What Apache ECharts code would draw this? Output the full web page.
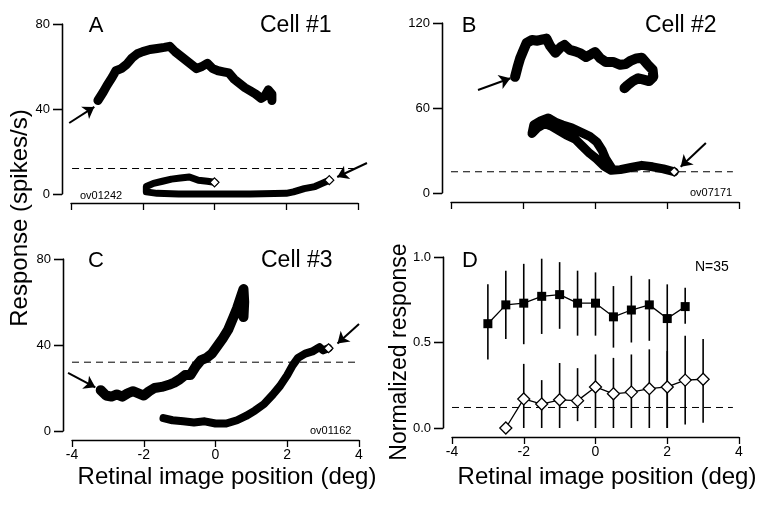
<!DOCTYPE html>
<html><head><meta charset="utf-8">
<script src="https://cdn.jsdelivr.net/npm/echarts@6/dist/echarts.min.js"></script>
<style>html,body{margin:0;padding:0;background:#fff}#c{width:768px;height:515px}</style>
</head><body><div id="c"></div>
<script>
// ---------- data ----------
const xTicks = [-4, -2, 0, 2, 4];
const yTicksA = [0, 40, 80];
const yTicksB = [0, 60, 120];
const yTicksC = [0, 40, 80];
const yTicksD = [0, 0.5, 1.0];

// Panel A (Cell #1)
const aFilled = [[-3.25,44],[-3.1,48],[-3.0,51],[-2.85,55],[-2.75,58],[-2.6,59],[-2.45,61],[-2.3,64],[-2.15,66],[-2.0,67],[-1.8,68],[-1.6,68.5],[-1.4,69],[-1.25,69.5],[-1.1,67],[-0.95,65],[-0.8,63],[-0.65,61],[-0.5,59],[-0.35,60],[-0.2,61.5],[-0.05,59],[0.1,58],[0.25,57.5],[0.4,57],[0.55,54],[0.7,52],[0.85,50],[1.0,48.5],[1.15,47],[1.3,45],[1.4,46],[1.5,49],[1.6,47],[1.6,44]];
const aOpen = [[0,5.5],[-0.2,6],[-0.45,6.5],[-0.7,8],[-0.95,7.5],[-1.2,7],[-1.45,6],[-1.7,5],[-1.9,3.5],[-1.9,1],[-1.6,0.3],[-1,0],[0,0],[1,0],[2,0.3],[2.2,1],[2.5,2.5],[2.8,3.5],[3.0,5],[3.2,6.5]];
const aOpenEnds = [[0,5.5],[3.2,6.5]];
const aBaseline = 12;
const aArrows = [[[-4.05,33.4],[-3.35,41]],[[4.25,14.6],[3.42,8]]];

// Panel B (Cell #2)
const bFilled = [[-2.22,82],[-2.15,89],[-2.08,95],[-2.0,100],[-1.9,106],[-1.75,108],[-1.6,107.5],[-1.45,108.5],[-1.35,109],[-1.25,104],[-1.1,99],[-0.95,103],[-0.85,104.5],[-0.7,101],[-0.55,100],[-0.4,98.5],[-0.25,96],[-0.1,98],[0,99.5],[0.15,95],[0.3,92.5],[0.5,92.5],[0.7,90.5],[0.85,91],[1.0,93.5],[1.15,95],[1.3,95.5],[1.45,91],[1.6,87],[1.62,82],[1.5,79],[1.35,80],[1.2,81],[1.05,79],[0.9,76],[0.82,74]];
const bOpen = [[2.2,15],[1.9,17],[1.6,18.5],[1.3,19.5],[1.0,18],[0.7,16.5],[0.45,16],[0.25,19],[0.05,24],[-0.15,28],[-0.35,33],[-0.55,38],[-0.8,41],[-1.0,44],[-1.2,47],[-1.4,49],[-1.6,46],[-1.75,42],[-1.7,48],[-1.5,51],[-1.3,53],[-1.1,50],[-0.9,48],[-0.65,46],[-0.4,43],[-0.15,40],[0.05,36],[0.2,30],[0.3,24],[0.45,18]];
const bOpenEnds = [[2.2,15]];
const bBaseline = 15;
const bArrows = [[[-3.25,72.7],[-2.35,81]],[[3.08,35.3],[2.38,18.5]]];

// Panel C (Cell #3)
const cFilled = [[-3.2,19],[-3.05,16.5],[-2.9,16],[-2.75,17],[-2.6,16],[-2.45,17.5],[-2.3,18.5],[-2.15,17.5],[-2.0,16.5],[-1.85,18.5],[-1.7,20],[-1.5,20.5],[-1.3,21.5],[-1.15,22.5],[-1.0,24],[-0.85,26],[-0.7,26],[-0.55,30],[-0.4,33],[-0.25,34],[-0.1,36],[0.05,39.5],[0.2,43],[0.35,47],[0.5,53],[0.6,57],[0.7,62],[0.78,66],[0.8,60],[0.78,53]];
const cOpen = [[-1.45,6],[-1.2,5],[-0.9,4.5],[-0.6,4],[-0.3,4.5],[0,3.5],[0.3,3.5],[0.6,5],[0.85,7],[1.1,9.5],[1.35,12.5],[1.6,17],[1.8,21],[2.0,26],[2.15,30.5],[2.3,34],[2.5,36],[2.7,37],[2.9,39],[3.0,37.5],[3.15,38.5]];
const cOpenEnds = [[3.15,38.5]];
const cBaseline = 32;
const cArrows = [[[-4.11,27],[-3.35,20.3]],[[4.0,49.8],[3.4,40.7]]];

// Panel D (population, N=35)
const dFilledX  = [-3,-2.5,-2,-1.5,-1,-0.5,0,0.5,1,1.5,2,2.5];
const dFilled   = [0.61,0.72,0.73,0.77,0.78,0.73,0.73,0.65,0.69,0.72,0.64,0.71];
const dFilledLo = [0.40,0.52,0.49,0.55,0.58,0.54,0.54,0.47,0.50,0.51,0.00,0.61];
const dFilledHi = [0.84,0.92,0.96,0.99,0.97,0.92,0.91,0.83,0.89,0.87,0.84,0.82];
const dOpenX  = [-2.5,-2,-1.5,-1,-0.5,0,0.5,1,1.5,2,2.5,3];
const dOpen   = [0.0,0.17,0.14,0.165,0.16,0.24,0.20,0.21,0.23,0.24,0.28,0.285];
const dOpenLo = [null,0,0,0,0.04,0,0,0,0,0,0.02,0.03];
const dOpenHi = [null,0.375,0.28,0.38,0.35,0.43,0.41,0.43,0.46,0.45,0.54,0.52];
const dBaseline = 0.12;

// ---------- chart ----------
const FONT = 'Liberation Sans, Arial, Helvetica, sans-serif';
const chart = echarts.init(document.getElementById('c'), null, {renderer: 'canvas'});

const panels = [
  {left: 71, top: 24, width: 287, height: 170, ticks: yTicksA},
  {left: 451, top: 23, width: 288, height: 170, ticks: yTicksB},
  {left: 72, top: 259, width: 287, height: 172, ticks: yTicksC},
  {left: 452, top: 257, width: 287, height: 171, ticks: yTicksD}
];
const Y_OFFSET = 9, Y_TICK = 9;

const grids = [], xAxes = [], yAxes = [];
panels.forEach((p, i) => {
  const t = p.ticks;
  grids.push({left: p.left, top: p.top, width: p.width, height: p.height});
  xAxes.push({
    type: 'value', gridIndex: i, min: xTicks[0], max: xTicks[xTicks.length - 1], interval: 2, offset: 9,
    axisLine: {show: true, onZero: false, lineStyle: {color: '#000', width: 1.3}},
    axisTick: {show: true, length: 7, lineStyle: {color: '#000', width: 1.3}},
    axisLabel: {show: i >= 2, color: '#000', fontSize: 14, fontFamily: FONT, margin: 8},
    splitLine: {show: false}
  });
  yAxes.push({
    type: 'value', gridIndex: i, min: t[0], max: t[t.length - 1], interval: t[1] - t[0], offset: Y_OFFSET,
    axisLine: {show: true, onZero: false, lineStyle: {color: '#000', width: 1.3}},
    axisTick: {show: true, length: Y_TICK, lineStyle: {color: '#000', width: 1.3}},
    axisLabel: {color: '#000', fontSize: 13, fontFamily: FONT, margin: 12,
      formatter: i === 3 ? (v => v.toFixed(1)) : undefined},
    splitLine: {show: false}
  });
});

// detached y-axis line + ticks drawn as unclipped segments through the panel's own scales
function yAxisDraw(idx) {
  const p = panels[idx], t = p.ticks;
  const degPerPx = (xTicks[xTicks.length - 1] - xTicks[0]) / p.width;
  const xa = xTicks[0] - Y_OFFSET * degPerPx;
  const xt = xa - Y_TICK * degPerPx;
  const segs = [{coords: [[xa, t[0]], [xa, t[t.length - 1]]]}];
  t.forEach(v => segs.push({coords: [[xt, v], [xa, v]]}));
  return {type: 'lines', coordinateSystem: 'cartesian2d', xAxisIndex: idx, yAxisIndex: idx, clip: false,
    symbol: ['none', 'none'], lineStyle: {color: '#000', width: 1.3, opacity: 1},
    data: segs, z: 6, silent: true};
}
function track(idx, data, width) {
  return {type: 'line', xAxisIndex: idx, yAxisIndex: idx, data: data, showSymbol: false, symbol: 'none',
    clip: false, lineStyle: {color: '#000', width: width, cap: 'round', join: 'round'}, z: 3, silent: true};
}
function ends(idx, data) {
  return {type: 'scatter', xAxisIndex: idx, yAxisIndex: idx, data: data, symbol: 'diamond', symbolSize: 9,
    itemStyle: {color: '#fff', borderColor: '#000', borderWidth: 1.2, opacity: 1}, z: 4, clip: false, silent: true};
}
function dashed(idx, y, x0, x1) {
  return {type: 'line', xAxisIndex: idx, yAxisIndex: idx, data: [[x0, y], [x1, y]], showSymbol: false, symbol: 'none',
    clip: false, lineStyle: {color: '#000', width: 1, type: [7, 5]}, z: 2, silent: true};
}
function arrows(idx, list) {
  return {type: 'lines', coordinateSystem: 'cartesian2d', xAxisIndex: idx, yAxisIndex: idx, clip: false,
    symbol: ['none', 'arrow'], symbolSize: [8, 11],
    lineStyle: {color: '#000', width: 2, opacity: 1},
    data: list.map(c => ({coords: c})), z: 5, silent: true};
}
function errBars(xs, lo, hi) {
  const data = [];
  xs.forEach((x, i) => { if (lo[i] !== null) data.push([x, lo[i], hi[i]]); });
  return {type: 'custom', xAxisIndex: 3, yAxisIndex: 3, data: data, z: 2, silent: true,
    renderItem: (params, api) => {
      const p1 = api.coord([api.value(0), api.value(1)]);
      const p2 = api.coord([api.value(0), api.value(2)]);
      return {type: 'line', shape: {x1: p1[0], y1: p1[1], x2: p2[0], y2: p2[1]},
        style: {stroke: '#000', lineWidth: 1.6}};
    }};
}
function txt(x, y, s, size, align, rot) {
  return {type: 'text', x: x, y: y, rotation: rot || 0,
    style: {text: s, fill: '#000', font: size + 'px ' + FONT, textAlign: align || 'center', textVerticalAlign: 'middle'}};
}

const option = {
  animation: false,
  backgroundColor: '#fff',
  grid: grids,
  xAxis: xAxes,
  yAxis: yAxes,
  series: [
    yAxisDraw(0), yAxisDraw(1), yAxisDraw(2), yAxisDraw(3),

    dashed(0, aBaseline, -3.97, 4.2),
    track(0, aFilled, 9),
    track(0, aOpen, 7),
    ends(0, aOpenEnds),
    arrows(0, aArrows),

    dashed(1, bBaseline, -4, 3.83),
    track(1, bFilled, 10),
    track(1, bOpen, 9),
    ends(1, bOpenEnds),
    arrows(1, bArrows),

    dashed(2, cBaseline, -4, 4.08),
    track(2, cFilled, 10),
    track(2, cOpen, 8),
    ends(2, cOpenEnds),
    arrows(2, cArrows),

    dashed(3, dBaseline, -4, 3.83),
    errBars(dFilledX, dFilledLo, dFilledHi),
    errBars(dOpenX, dOpenLo, dOpenHi),
    {type: 'line', xAxisIndex: 3, yAxisIndex: 3, data: dFilledX.map((x, i) => [x, dFilled[i]]),
      symbol: 'rect', symbolSize: 9, showSymbol: true, lineStyle: {color: '#000', width: 1.3},
      itemStyle: {color: '#000'}, z: 4},
    {type: 'line', xAxisIndex: 3, yAxisIndex: 3, data: dOpenX.map((x, i) => [x, dOpen[i]]),
      symbol: 'diamond', symbolSize: 12, showSymbol: true, lineStyle: {color: '#000', width: 1.3},
      itemStyle: {color: '#fff', borderColor: '#000', borderWidth: 1.3}, z: 4, clip: false}
  ],
  graphic: [
    txt(96, 26, 'A', 22), txt(260, 26, 'Cell #1', 23, 'left'),
    txt(469, 26, 'B', 22), txt(645, 26, 'Cell #2', 23, 'left'),
    txt(96, 261, 'C', 22), txt(261, 261, 'Cell #3', 23, 'left'),
    txt(470, 261, 'D', 22), txt(695, 267, 'N=35', 14, 'left'),
    txt(80, 196, 'ov01242', 11, 'left'),
    txt(690, 193, 'ov07171', 11, 'left'),
    txt(310, 431, 'ov01162', 11, 'left'),
    txt(227, 477, 'Retinal image position (deg)', 24),
    txt(607, 477, 'Retinal image position (deg)', 24),
    txt(20, 218, 'Response (spikes/s)', 24, 'center', Math.PI / 2),
    txt(400, 352, 'Normalized response', 23, 'center', Math.PI / 2)
  ]
};
chart.setOption(option);
</script>
</body></html>
